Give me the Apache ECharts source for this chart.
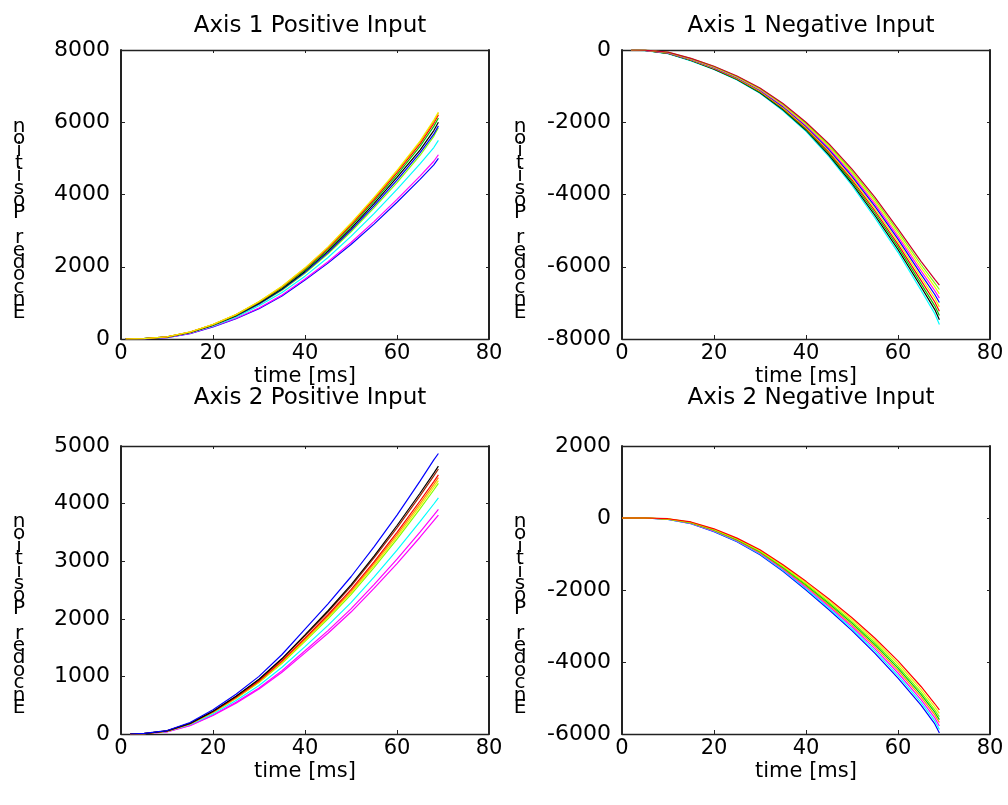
<!DOCTYPE html>
<html><head><meta charset="utf-8">
<script src="https://cdn.jsdelivr.net/npm/echarts/dist/echarts.min.js"></script>
<style>html,body{margin:0;padding:0;background:#fff}#c{width:1008px;height:805px}</style>
</head><body><div id="c"></div>
<script>
// ---------- data ----------
const panelTitles = ['Axis 1 Positive Input','Axis 1 Negative Input','Axis 2 Positive Input','Axis 2 Negative Input'];
const xLabel = 'time [ms]';
const yLabel = 'Encoder Position';
const xTicks = [0, 20, 40, 60, 80];
const yRangeTL = [0, 8000, 2000];
const yRangeTR = [-8000, 0, 2000];
const yRangeBL = [0, 5000, 1000];
const yRangeBR = [-6000, 2000, 2000];

const timeTL = [1, 5, 10, 15, 20, 25, 30, 35, 40, 45, 50, 55, 60, 65, 68, 69];
const timeTR = [2, 5, 10, 15, 20, 25, 30, 35, 40, 45, 50, 55, 60, 65, 68, 69];
const timeBL = [2, 5, 10, 15, 20, 25, 30, 35, 40, 45, 50, 55, 60, 65, 68, 69];
const timeBR = [0, 5, 10, 15, 20, 25, 30, 35, 40, 45, 50, 55, 60, 65, 68, 69];

// Axis 1 positive
const tlYellow  = [0, 12, 62, 195, 405, 680, 1040, 1460, 1970, 2550, 3210, 3920, 4670, 5480, 6060, 6280];
const tlOrange  = [0, 12, 61, 193, 402, 676, 1033, 1451, 1958, 2535, 3192, 3898, 4645, 5450, 6025, 6250];
const tlRed     = [0, 11, 60, 191, 398, 670, 1024, 1438, 1941, 2513, 3163, 3862, 4604, 5400, 5970, 6200];
const tlGreen   = [0, 10, 58, 187, 392, 660, 1008, 1416, 1911, 2475, 3117, 3808, 4545, 5330, 5885, 6120];
const tlBlack   = [0, 10, 56, 183, 386, 648, 990, 1392, 1878, 2433, 3063, 3745, 4472, 5230, 5770, 6000];
const tlBlue    = [0, 9, 54, 179, 380, 638, 972, 1368, 1845, 2391, 3012, 3683, 4396, 5150, 5670, 5900];
const tlLgreen  = [0, 8, 52, 175, 375, 630, 960, 1350, 1820, 2360, 2970, 3630, 4330, 5080, 5610, 5850];
const tlCyan    = [0, 8, 50, 170, 360, 605, 920, 1290, 1740, 2255, 2840, 3470, 4140, 4850, 5300, 5500];
const tlMagenta = [0, 5, 42, 155, 345, 575, 860, 1215, 1660, 2140, 2670, 3250, 3865, 4510, 4920, 5100];
const tlBlue2   = [0, 5, 40, 150, 335, 560, 840, 1190, 1630, 2100, 2615, 3180, 3785, 4420, 4820, 5000];

// Axis 1 negative
const trCrimson = [0, -5, -60, -230, -450, -720, -1050, -1480, -2000, -2600, -3300, -4080, -4950, -5850, -6350, -6510];
const trGreen   = [0, -6, -64, -238, -460, -732, -1066, -1502, -2028, -2638, -3350, -4143, -5022, -5938, -6455, -6630];
const trYellow  = [0, -7, -69, -245, -470, -744, -1083, -1524, -2055, -2677, -3399, -4205, -5093, -6026, -6559, -6750];
const trMagenta = [0, -8, -73, -253, -480, -756, -1100, -1546, -2083, -2716, -3449, -4268, -5165, -6114, -6664, -6870];
const trBlue    = [0, -9, -78, -261, -490, -768, -1116, -1568, -2110, -2754, -3498, -4331, -5236, -6202, -6768, -6990];
const trOrange  = [0, -11, -82, -269, -500, -781, -1133, -1590, -2138, -2793, -3548, -4394, -5308, -6290, -6873, -7110];
const trRed     = [0, -12, -86, -276, -509, -793, -1149, -1612, -2165, -2831, -3597, -4456, -5379, -6378, -6977, -7230];
const trLgreen  = [0, -13, -91, -284, -519, -805, -1166, -1634, -2193, -2870, -3647, -4519, -5451, -6466, -7082, -7350];
const trBlack   = [0, -14, -95, -292, -529, -817, -1182, -1656, -2220, -2908, -3696, -4582, -5522, -6554, -7186, -7470];
const trCyan    = [0, -15, -100, -300, -540, -830, -1200, -1680, -2250, -2950, -3750, -4650, -5600, -6650, -7300, -7600];

// Axis 2 positive
const blBlue     = [0, 10, 60, 200, 420, 690, 1000, 1380, 1820, 2260, 2730, 3250, 3800, 4390, 4760, 4870];
const blBlack    = [0, 8, 55, 185, 395, 655, 950, 1310, 1720, 2140, 2590, 3090, 3620, 4180, 4530, 4650];
const blBrown    = [0, 8, 55, 185, 393, 650, 942, 1298, 1703, 2118, 2562, 3056, 3580, 4134, 4480, 4600];
const blRed      = [0, 7, 52, 180, 385, 636, 922, 1270, 1665, 2070, 2505, 2990, 3502, 4045, 4383, 4500];
const blOrange   = [0, 7, 51, 178, 381, 629, 912, 1256, 1646, 2047, 2477, 2956, 3463, 4000, 4334, 4450];
const blYellow   = [0, 6, 50, 176, 377, 622, 902, 1242, 1628, 2024, 2449, 2923, 3424, 3955, 4285, 4400];
const blLgreen   = [0, 6, 49, 174, 372, 615, 892, 1228, 1609, 2000, 2421, 2890, 3385, 3910, 4236, 4350];
const blCyan     = [0, 5, 44, 160, 350, 580, 842, 1158, 1517, 1886, 2282, 2724, 3191, 3686, 3993, 4100];
const blMagenta  = [0, 4, 40, 150, 330, 550, 800, 1100, 1445, 1795, 2172, 2593, 3035, 3505, 3800, 3900];
const blMagenta2 = [0, 4, 38, 145, 320, 535, 780, 1072, 1408, 1750, 2117, 2527, 2958, 3416, 3703, 3800];

// Axis 2 negative
const brRed     = [0, 0, -20, -110, -300, -560, -880, -1300, -1760, -2250, -2770, -3340, -3970, -4680, -5160, -5330];
const brYellow  = [0, 0, -23, -118, -312, -575, -901, -1327, -1796, -2295, -2824, -3403, -4042, -4758, -5244, -5426];
const brLgreen  = [0, 0, -26, -125, -324, -590, -922, -1354, -1832, -2340, -2878, -3466, -4114, -4836, -5328, -5522];
const brGreen   = [0, 0, -28, -131, -334, -602, -939, -1376, -1861, -2376, -2921, -3516, -4172, -4898, -5395, -5599];
const brOrange  = [0, 0, -31, -138, -344, -615, -957, -1399, -1892, -2415, -2968, -3571, -4234, -4966, -5468, -5682];
const brMagenta = [0, 0, -34, -145, -356, -630, -978, -1426, -1928, -2460, -3022, -3634, -4306, -5044, -5552, -5778];
const brCyan    = [0, 0, -37, -153, -368, -645, -999, -1453, -1964, -2505, -3076, -3697, -4378, -5122, -5636, -5874];
const brBlue    = [0, 0, -40, -160, -380, -660, -1020, -1480, -2000, -2550, -3130, -3760, -4450, -5200, -5720, -5970];

// ---------- styling ----------
const COL = {blue:'#0000ff', green:'#00c800', red:'#ff0000', cyan:'#00ffff', magenta:'#ff00ff',
  yellow:'#f0f000', black:'#000000', orange:'#ff8c00', lgreen:'#80ff00', crimson:'#c8002a', brown:'#a02808'};
const FONT = 'DejaVu Sans';

const panels = [
  {time: timeTL, range: yRangeTL, curves: [
    [tlBlue2,'blue'],[tlMagenta,'magenta'],[tlCyan,'cyan'],[tlLgreen,'lgreen'],[tlBlue,'blue'],
    [tlBlack,'black'],[tlGreen,'green'],[tlRed,'red'],[tlOrange,'orange'],[tlYellow,'yellow']]},
  {time: timeTR, range: yRangeTR, curves: [
    [trCyan,'cyan'],[trBlack,'black'],[trLgreen,'green'],[trRed,'red'],[trOrange,'yellow'],
    [trBlue,'blue'],[trMagenta,'magenta'],[trYellow,'yellow'],[trGreen,'lgreen'],[trCrimson,'crimson']]},
  {time: timeBL, range: yRangeBL, curves: [
    [blMagenta2,'magenta'],[blMagenta,'magenta'],[blCyan,'cyan'],[blLgreen,'lgreen'],[blYellow,'yellow'],
    [blOrange,'orange'],[blRed,'red'],[blBrown,'brown'],[blBlack,'black'],[blBlue,'blue']]},
  {time: timeBR, range: yRangeBR, curves: [
    [brBlue,'blue'],[brCyan,'cyan'],[brMagenta,'magenta'],[brOrange,'orange'],[brGreen,'green'],
    [brLgreen,'lgreen'],[brYellow,'yellow'],[brRed,'red']]}
];

const gridPos = [
  {left:121, top:50, width:368, height:289},
  {left:622, top:50, width:368, height:289},
  {left:121, top:446, width:368, height:288},
  {left:622, top:446, width:368, height:288}
];
const titleTop = [10, 10, 382, 382];

// letters of the y label stacked (as drawn in the reference), shifted down by leading empty lines
const stacked = '\n\n\n\n' + yLabel.split('').reverse().join('\n');

const option = {
  backgroundColor:'#ffffff',
  animation:false,
  title: panelTitles.map((t,i)=>({
    text:t, left: gridPos[i].left + gridPos[i].width/2, textAlign:'center',
    top: titleTop[i],
    textStyle:{fontFamily:FONT, fontSize:23, fontWeight:'normal', color:'#000'}
  })),
  grid: gridPos.map(g=>Object.assign({containLabel:false, outerBoundsMode:'none'}, g)),
  xAxis: [], yAxis: [], series: []
};

const plain = v => String(v);

gridPos.forEach((g,i)=>{
  const p = panels[i];
  option.xAxis.push({
    type:'value', gridIndex:i, position:'bottom', min:xTicks[0], max:xTicks[xTicks.length-1], interval:20,
    name:xLabel, nameLocation:'middle', nameGap:27,
    nameTextStyle:{fontFamily:FONT, fontSize:21, color:'#000'},
    axisLine:{show:true, onZero:false, lineStyle:{color:'#222', width:1.3}},
    axisTick:{show:true, inside:true, length:4, lineStyle:{color:'#222'}},
    axisLabel:{show:true, margin:4, fontFamily:FONT, fontSize:21, color:'#000', formatter:plain},
    splitLine:{show:false}
  });
  option.xAxis.push({
    type:'value', gridIndex:i, position:'top', min:xTicks[0], max:xTicks[xTicks.length-1], interval:20,
    axisLine:{show:true, onZero:false, lineStyle:{color:'#222', width:1.3}},
    axisTick:{show:true, inside:true, length:3, lineStyle:{color:'#222'}},
    axisLabel:{show:false}, splitLine:{show:false}
  });
  option.yAxis.push({
    type:'value', gridIndex:i, position:'left', min:p.range[0], max:p.range[1], interval:p.range[2],
    name:stacked, nameLocation:'middle', nameGap:102, nameRotate:0,
    nameTextStyle:{fontFamily:FONT, fontSize:20, color:'#000', lineHeight:12.4, align:'center', verticalAlign:'middle'},
    axisLine:{show:true, onZero:false, lineStyle:{color:'#222', width:2}},
    axisTick:{show:true, inside:true, length:4, lineStyle:{color:'#222'}},
    axisLabel:{show:true, margin:11, fontFamily:FONT, fontSize:22, color:'#000', formatter:plain},
    splitLine:{show:false}
  });
  option.yAxis.push({
    type:'value', gridIndex:i, position:'right', min:p.range[0], max:p.range[1], interval:p.range[2],
    axisLine:{show:true, onZero:false, lineStyle:{color:'#222', width:2}},
    axisTick:{show:true, inside:true, length:3, lineStyle:{color:'#222'}},
    axisLabel:{show:false}, splitLine:{show:false}
  });
  p.curves.forEach(([vals,c])=>{
    option.series.push({
      type:'line', xAxisIndex:2*i, yAxisIndex:2*i, showSymbol:false, symbol:'none',
      lineStyle:{color:COL[c], width:1.2}, itemStyle:{color:COL[c]},
      data: p.time.map((t,k)=>[t, vals[k]])
    });
  });
});

const chart = echarts.init(document.getElementById('c'), null, {renderer:'canvas'});
chart.setOption(option);
</script>
</body></html>
